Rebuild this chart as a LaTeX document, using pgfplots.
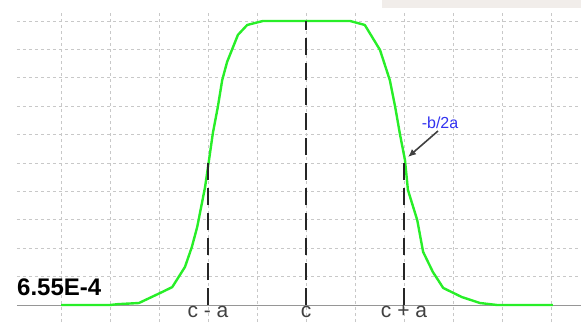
\documentclass[border=0pt]{standalone}
\usepackage{pgfplots}
\pgfplotsset{compat=1.18}
\usepackage{fontspec}
\setmainfont{Liberation Sans}
\usetikzlibrary{arrows.meta}
\definecolor{curvegreen}{RGB}{40,238,40}
\definecolor{gridgray}{RGB}{200,200,200}
\definecolor{axisgray}{RGB}{150,150,150}
\definecolor{labelgray}{RGB}{64,64,64}
\definecolor{annblue}{RGB}{50,50,240}
\definecolor{boxbeige}{RGB}{241,237,234}
\begin{document}
\begin{tikzpicture}
\path[use as bounding box, clip] (0,0) rectangle (581pt,322pt);
\fill[boxbeige] (382pt,314pt) rectangle (581pt,322pt);
\begin{axis}[
  at={(17pt,0pt)}, anchor=south west,
  scale only axis, width=564pt, height=312pt,
  xmin=-5.898, xmax=5.612, ymin=-0.5986, ymax=10.387,
  axis line style={draw=none},
  tick style={draw=none},
  xtick={-5,...,5}, ytick={1,...,10},
  xticklabels={}, yticklabels={},
  grid=major,
  major grid style={draw=gridgray, line width=0.7pt, dash pattern=on 3pt off 3pt},
  extra y ticks={0}, extra y tick labels={},
  extra y tick style={grid=major, major grid style={solid, draw=axisgray, line width=1pt}},
  clip=false,
]
\addplot[curvegreen, line width=2.4pt, line join=round] coordinates {
(-5,0) (-4,0) (-3.84,0.03) (-3.41,0.07) (-2.98,0.42) (-2.73,0.63) (-2.47,1.34) (-2.33,2.04)
(-2.22,2.75) (-2.06,4.15) (-1.98,5.1) (-1.90,6.06) (-1.80,6.97) (-1.71,7.92) (-1.61,8.56)
(-1.39,9.51) (-1.20,9.86) (-0.88,10.0)
(0.90,10.0) (1.20,9.86) (1.51,8.98) (1.71,7.92) (1.82,6.97) (1.92,5.99) (2.02,5.1)
(2.08,4.05) (2.27,2.99) (2.39,1.87) (2.59,1.16) (2.80,0.60) (3.18,0.28) (3.55,0.07)
(3.9,0) (5.04,0)
};
\addplot[black!85, line width=1.8pt, dash pattern=on 17pt off 8pt] coordinates {(-2,0) (-2,5.1)};
\addplot[black!85, line width=1.8pt, dash pattern=on 17pt off 8pt] coordinates {(0,0) (0,10.0)};
\addplot[black!85, line width=1.8pt, dash pattern=on 17pt off 8pt] coordinates {(2,0) (2,5.1)};
\node[anchor=base, text=labelgray, font=\fontsize{21pt}{21pt}\selectfont, inner sep=0pt] at (axis cs:-2,-0.4225) {c - a};
\node[anchor=base, text=labelgray, font=\fontsize{21pt}{21pt}\selectfont, inner sep=0pt] at (axis cs:0,-0.4225) {c};
\node[anchor=base, text=labelgray, font=\fontsize{21pt}{21pt}\selectfont, inner sep=0pt] at (axis cs:2,-0.4225) {c + a};
\node[anchor=base west, font=\bfseries\fontsize{24pt}{24pt}\selectfont, inner sep=0pt] at (axis cs:-5.898,0.352) {6.55E-4};
\node[text=annblue, font=\fontsize{16pt}{16pt}\selectfont, inner sep=0pt] at (axis cs:2.735,6.41) {-b/2a};
\draw[black!75, line width=1.6pt, -{Latex[length=8pt,width=7pt]}] (axis cs:2.694,6.127) -- (axis cs:2.082,5.211);
\end{axis}
\end{tikzpicture}
\end{document}
